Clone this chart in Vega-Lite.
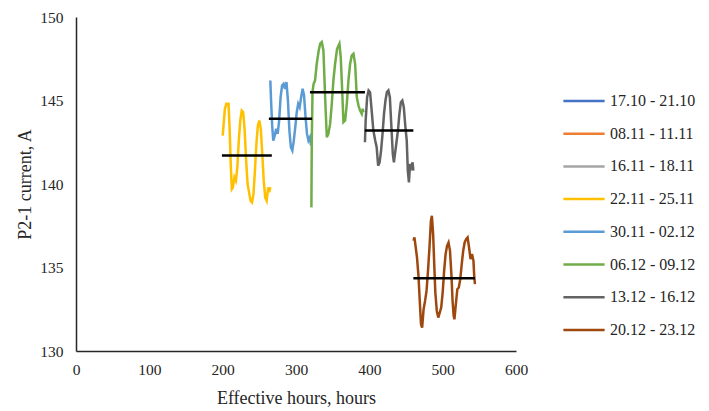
{
  "$schema": "https://vega.github.io/schema/vega-lite/v6.json",
  "width": 440,
  "height": 334,
  "autosize": "none",
  "padding": {"left": 76, "top": 17, "right": 193, "bottom": 60},
  "background": "white",
  "config": {
    "view": {"stroke": null},
    "axis": {
      "grid": false,
      "ticks": false,
      "domainColor": "#262626",
      "domainWidth": 1.5,
      "labelFont": "Liberation Serif",
      "labelFontSize": 15.5,
      "labelColor": "#262626",
      "labelFlush": false,
      "titleFont": "Liberation Serif",
      "titleFontSize": 18,
      "titleFontWeight": "normal",
      "titleColor": "#262626"
    }
  },
  "datasets": {
    "traces": [
      {"s": "22.11 - 25.11", "x": 200, "y": 142.9},
      {"s": "22.11 - 25.11", "x": 201, "y": 143.4},
      {"s": "22.11 - 25.11", "x": 203, "y": 144.5},
      {"s": "22.11 - 25.11", "x": 205, "y": 144.8},
      {"s": "22.11 - 25.11", "x": 208, "y": 144.8},
      {"s": "22.11 - 25.11", "x": 209.5, "y": 143.3},
      {"s": "22.11 - 25.11", "x": 211, "y": 141.2},
      {"s": "22.11 - 25.11", "x": 212.5, "y": 139.7},
      {"s": "22.11 - 25.11", "x": 214, "y": 139.8},
      {"s": "22.11 - 25.11", "x": 216, "y": 140.4},
      {"s": "22.11 - 25.11", "x": 218, "y": 140.2},
      {"s": "22.11 - 25.11", "x": 220, "y": 141.0},
      {"s": "22.11 - 25.11", "x": 222, "y": 142.6},
      {"s": "22.11 - 25.11", "x": 224, "y": 143.8},
      {"s": "22.11 - 25.11", "x": 226, "y": 144.4},
      {"s": "22.11 - 25.11", "x": 228, "y": 144.3},
      {"s": "22.11 - 25.11", "x": 230, "y": 143.2},
      {"s": "22.11 - 25.11", "x": 232, "y": 141.4},
      {"s": "22.11 - 25.11", "x": 234, "y": 140.0},
      {"s": "22.11 - 25.11", "x": 236, "y": 139.5},
      {"s": "22.11 - 25.11", "x": 238, "y": 139.0},
      {"s": "22.11 - 25.11", "x": 240, "y": 138.9},
      {"s": "22.11 - 25.11", "x": 242, "y": 139.4},
      {"s": "22.11 - 25.11", "x": 244, "y": 140.8},
      {"s": "22.11 - 25.11", "x": 246, "y": 142.4},
      {"s": "22.11 - 25.11", "x": 248, "y": 143.5},
      {"s": "22.11 - 25.11", "x": 250, "y": 143.8},
      {"s": "22.11 - 25.11", "x": 252, "y": 143.3},
      {"s": "22.11 - 25.11", "x": 254, "y": 141.8},
      {"s": "22.11 - 25.11", "x": 256, "y": 140.2},
      {"s": "22.11 - 25.11", "x": 258, "y": 139.2},
      {"s": "22.11 - 25.11", "x": 260, "y": 139.0},
      {"s": "22.11 - 25.11", "x": 262, "y": 139.8},
      {"s": "22.11 - 25.11", "x": 263.5, "y": 139.5},
      {"s": "22.11 - 25.11", "x": 265, "y": 139.8},

      {"s": "30.11 - 02.12", "x": 265, "y": 146.2},
      {"s": "30.11 - 02.12", "x": 266, "y": 145.0},
      {"s": "30.11 - 02.12", "x": 267.5, "y": 143.5},
      {"s": "30.11 - 02.12", "x": 269, "y": 142.6},
      {"s": "30.11 - 02.12", "x": 271, "y": 142.9},
      {"s": "30.11 - 02.12", "x": 273, "y": 143.3},
      {"s": "30.11 - 02.12", "x": 275, "y": 143.0},
      {"s": "30.11 - 02.12", "x": 277, "y": 143.8},
      {"s": "30.11 - 02.12", "x": 279, "y": 145.2},
      {"s": "30.11 - 02.12", "x": 281, "y": 145.9},
      {"s": "30.11 - 02.12", "x": 283, "y": 146.0},
      {"s": "30.11 - 02.12", "x": 285, "y": 145.7},
      {"s": "30.11 - 02.12", "x": 287, "y": 146.1},
      {"s": "30.11 - 02.12", "x": 289, "y": 145.0},
      {"s": "30.11 - 02.12", "x": 291, "y": 143.2},
      {"s": "30.11 - 02.12", "x": 293, "y": 142.2},
      {"s": "30.11 - 02.12", "x": 295, "y": 142.0},
      {"s": "30.11 - 02.12", "x": 297, "y": 142.6},
      {"s": "30.11 - 02.12", "x": 299, "y": 143.4},
      {"s": "30.11 - 02.12", "x": 301, "y": 144.3},
      {"s": "30.11 - 02.12", "x": 303, "y": 144.8},
      {"s": "30.11 - 02.12", "x": 305, "y": 144.6},
      {"s": "30.11 - 02.12", "x": 307, "y": 145.2},
      {"s": "30.11 - 02.12", "x": 309, "y": 145.7},
      {"s": "30.11 - 02.12", "x": 311, "y": 145.3},
      {"s": "30.11 - 02.12", "x": 313, "y": 144.0},
      {"s": "30.11 - 02.12", "x": 315, "y": 143.0},
      {"s": "30.11 - 02.12", "x": 317, "y": 142.6},
      {"s": "30.11 - 02.12", "x": 319, "y": 142.8},
      {"s": "30.11 - 02.12", "x": 320.5, "y": 142.3},

      {"s": "06.12 - 09.12", "x": 321, "y": 138.6},
      {"s": "06.12 - 09.12", "x": 321.5, "y": 142.5},
      {"s": "06.12 - 09.12", "x": 322.5, "y": 145.5},
      {"s": "06.12 - 09.12", "x": 324, "y": 146.0},
      {"s": "06.12 - 09.12", "x": 326, "y": 146.2},
      {"s": "06.12 - 09.12", "x": 328.3, "y": 147.2},
      {"s": "06.12 - 09.12", "x": 331, "y": 148.0},
      {"s": "06.12 - 09.12", "x": 333, "y": 148.4},
      {"s": "06.12 - 09.12", "x": 335.2, "y": 148.5},
      {"s": "06.12 - 09.12", "x": 337.4, "y": 148.0},
      {"s": "06.12 - 09.12", "x": 339.7, "y": 145.2},
      {"s": "06.12 - 09.12", "x": 342, "y": 142.8},
      {"s": "06.12 - 09.12", "x": 344.2, "y": 143.0},
      {"s": "06.12 - 09.12", "x": 346.5, "y": 143.6},
      {"s": "06.12 - 09.12", "x": 348.8, "y": 144.8},
      {"s": "06.12 - 09.12", "x": 351, "y": 146.2},
      {"s": "06.12 - 09.12", "x": 353.3, "y": 147.2},
      {"s": "06.12 - 09.12", "x": 356, "y": 148.1},
      {"s": "06.12 - 09.12", "x": 359.2, "y": 148.4},
      {"s": "06.12 - 09.12", "x": 361, "y": 147.6},
      {"s": "06.12 - 09.12", "x": 362.4, "y": 146.2},
      {"s": "06.12 - 09.12", "x": 364.7, "y": 143.7},
      {"s": "06.12 - 09.12", "x": 367, "y": 143.8},
      {"s": "06.12 - 09.12", "x": 369.3, "y": 144.8},
      {"s": "06.12 - 09.12", "x": 371.5, "y": 146.2},
      {"s": "06.12 - 09.12", "x": 373.8, "y": 147.2},
      {"s": "06.12 - 09.12", "x": 376.1, "y": 147.7},
      {"s": "06.12 - 09.12", "x": 378.4, "y": 147.8},
      {"s": "06.12 - 09.12", "x": 380.6, "y": 147.2},
      {"s": "06.12 - 09.12", "x": 382.9, "y": 145.2},
      {"s": "06.12 - 09.12", "x": 385.2, "y": 144.7},
      {"s": "06.12 - 09.12", "x": 387.4, "y": 144.4},
      {"s": "06.12 - 09.12", "x": 389.7, "y": 144.2},
      {"s": "06.12 - 09.12", "x": 391, "y": 144.5},
      {"s": "06.12 - 09.12", "x": 392, "y": 144.3},

      {"s": "13.12 - 16.12", "x": 394, "y": 142.5},
      {"s": "13.12 - 16.12", "x": 395, "y": 143.8},
      {"s": "13.12 - 16.12", "x": 397, "y": 145.2},
      {"s": "13.12 - 16.12", "x": 399, "y": 145.6},
      {"s": "13.12 - 16.12", "x": 401, "y": 145.5},
      {"s": "13.12 - 16.12", "x": 403, "y": 144.5},
      {"s": "13.12 - 16.12", "x": 405.5, "y": 143.2},
      {"s": "13.12 - 16.12", "x": 408, "y": 142.6},
      {"s": "13.12 - 16.12", "x": 410, "y": 142.2},
      {"s": "13.12 - 16.12", "x": 412, "y": 141.1},
      {"s": "13.12 - 16.12", "x": 414, "y": 141.3},
      {"s": "13.12 - 16.12", "x": 416, "y": 142.0},
      {"s": "13.12 - 16.12", "x": 418, "y": 143.0},
      {"s": "13.12 - 16.12", "x": 420, "y": 144.2},
      {"s": "13.12 - 16.12", "x": 422, "y": 145.0},
      {"s": "13.12 - 16.12", "x": 424, "y": 145.5},
      {"s": "13.12 - 16.12", "x": 426, "y": 145.6},
      {"s": "13.12 - 16.12", "x": 428, "y": 145.2},
      {"s": "13.12 - 16.12", "x": 430, "y": 143.5},
      {"s": "13.12 - 16.12", "x": 432, "y": 141.8},
      {"s": "13.12 - 16.12", "x": 433.5, "y": 141.3},
      {"s": "13.12 - 16.12", "x": 435, "y": 141.8},
      {"s": "13.12 - 16.12", "x": 437, "y": 142.5},
      {"s": "13.12 - 16.12", "x": 439, "y": 143.2},
      {"s": "13.12 - 16.12", "x": 441, "y": 144.2},
      {"s": "13.12 - 16.12", "x": 443, "y": 144.9},
      {"s": "13.12 - 16.12", "x": 445, "y": 145.0},
      {"s": "13.12 - 16.12", "x": 447, "y": 144.6},
      {"s": "13.12 - 16.12", "x": 449, "y": 143.5},
      {"s": "13.12 - 16.12", "x": 451, "y": 142.6},
      {"s": "13.12 - 16.12", "x": 452.5, "y": 140.8},
      {"s": "13.12 - 16.12", "x": 454, "y": 140.1},
      {"s": "13.12 - 16.12", "x": 455.5, "y": 141.2},
      {"s": "13.12 - 16.12", "x": 457, "y": 141.0},
      {"s": "13.12 - 16.12", "x": 459, "y": 141.3},
      {"s": "13.12 - 16.12", "x": 460, "y": 140.8},

      {"s": "20.12 - 23.12", "x": 460.2, "y": 136.6},
      {"s": "20.12 - 23.12", "x": 461.5, "y": 136.8},
      {"s": "20.12 - 23.12", "x": 463, "y": 136.3},
      {"s": "20.12 - 23.12", "x": 465, "y": 135.6},
      {"s": "20.12 - 23.12", "x": 467, "y": 134.5},
      {"s": "20.12 - 23.12", "x": 469, "y": 132.8},
      {"s": "20.12 - 23.12", "x": 470.5, "y": 131.6},
      {"s": "20.12 - 23.12", "x": 472, "y": 131.4},
      {"s": "20.12 - 23.12", "x": 474, "y": 132.5},
      {"s": "20.12 - 23.12", "x": 476, "y": 133.0},
      {"s": "20.12 - 23.12", "x": 478, "y": 133.6},
      {"s": "20.12 - 23.12", "x": 480, "y": 134.8},
      {"s": "20.12 - 23.12", "x": 482, "y": 136.2},
      {"s": "20.12 - 23.12", "x": 484, "y": 137.8},
      {"s": "20.12 - 23.12", "x": 485.3, "y": 138.1},
      {"s": "20.12 - 23.12", "x": 487, "y": 137.0},
      {"s": "20.12 - 23.12", "x": 488.5, "y": 135.2},
      {"s": "20.12 - 23.12", "x": 490, "y": 133.5},
      {"s": "20.12 - 23.12", "x": 492, "y": 132.4},
      {"s": "20.12 - 23.12", "x": 494, "y": 132.0},
      {"s": "20.12 - 23.12", "x": 496, "y": 132.3},
      {"s": "20.12 - 23.12", "x": 498, "y": 132.6},
      {"s": "20.12 - 23.12", "x": 500, "y": 133.5},
      {"s": "20.12 - 23.12", "x": 502, "y": 134.8},
      {"s": "20.12 - 23.12", "x": 504, "y": 135.8},
      {"s": "20.12 - 23.12", "x": 506, "y": 136.3},
      {"s": "20.12 - 23.12", "x": 508, "y": 136.5},
      {"s": "20.12 - 23.12", "x": 510, "y": 136.0},
      {"s": "20.12 - 23.12", "x": 512, "y": 134.5},
      {"s": "20.12 - 23.12", "x": 513.5, "y": 133.0},
      {"s": "20.12 - 23.12", "x": 515, "y": 132.1},
      {"s": "20.12 - 23.12", "x": 516, "y": 131.9},
      {"s": "20.12 - 23.12", "x": 518, "y": 132.8},
      {"s": "20.12 - 23.12", "x": 520, "y": 133.7},
      {"s": "20.12 - 23.12", "x": 522, "y": 133.8},
      {"s": "20.12 - 23.12", "x": 524, "y": 134.3},
      {"s": "20.12 - 23.12", "x": 526, "y": 135.2},
      {"s": "20.12 - 23.12", "x": 528, "y": 136.0},
      {"s": "20.12 - 23.12", "x": 530, "y": 136.5},
      {"s": "20.12 - 23.12", "x": 532, "y": 136.7},
      {"s": "20.12 - 23.12", "x": 534, "y": 136.8},
      {"s": "20.12 - 23.12", "x": 536, "y": 136.2},
      {"s": "20.12 - 23.12", "x": 538, "y": 135.5},
      {"s": "20.12 - 23.12", "x": 540, "y": 135.8},
      {"s": "20.12 - 23.12", "x": 542, "y": 135.4},
      {"s": "20.12 - 23.12", "x": 543, "y": 134.5},
      {"s": "20.12 - 23.12", "x": 544, "y": 134.0}
    ],
    "means": [
      {"seg": "a", "x": 199, "y": 141.7},
      {"seg": "a", "x": 267, "y": 141.7},
      {"seg": "b", "x": 263, "y": 143.9},
      {"seg": "b", "x": 322, "y": 143.9},
      {"seg": "c", "x": 319, "y": 145.5},
      {"seg": "c", "x": 394, "y": 145.5},
      {"seg": "d", "x": 394, "y": 143.2},
      {"seg": "d", "x": 460, "y": 143.2},
      {"seg": "e", "x": 460, "y": 134.35},
      {"seg": "e", "x": 544, "y": 134.35}
    ]
  },
  "layer": [
    {
      "data": {"name": "traces"},
      "mark": {"type": "line", "strokeWidth": 2.5},
      "encoding": {
        "x": {
          "field": "x", "type": "quantitative",
          "scale": {"domain": [0, 600], "nice": false},
          "axis": {"values": [0, 100, 200, 300, 400, 500, 600], "title": "Effective hours, hours", "labelPadding": 11, "titlePadding": 12}
        },
        "y": {
          "field": "y", "type": "quantitative",
          "scale": {"domain": [130, 150], "nice": false, "zero": false},
          "axis": {"values": [130, 135, 140, 145, 150], "title": "P2-1 current, A", "labelPadding": 13, "titlePadding": 5}
        },
        "color": {
          "field": "s", "type": "nominal",
          "scale": {
            "domain": ["17.10 - 21.10", "08.11 - 11.11", "16.11 - 18.11", "22.11 - 25.11", "30.11 - 02.12", "06.12 - 09.12", "13.12 - 16.12", "20.12 - 23.12"],
            "range": ["#4472C4", "#ED7D31", "#A5A5A5", "#FFC000", "#5B9BD5", "#70AD47", "#636363", "#9E480E"]
          },
          "legend": {
            "title": null,
            "orient": "none",
            "legendX": 486,
            "legendY": 62,
            "symbolType": "stroke",
            "symbolSize": 1700,
            "symbolStrokeWidth": 2.5,
            "labelFont": "Liberation Serif",
            "labelFontSize": 16,
            "labelColor": "#262626",
            "rowPadding": 2.7,
            "labelOffset": 4,
            "labelLimit": 200
          }
        },
        "detail": {"field": "s"}
      }
    },
    {
      "data": {"name": "means"},
      "mark": {"type": "line", "strokeWidth": 2.5, "color": "black"},
      "encoding": {
        "x": {"field": "x", "type": "quantitative"},
        "y": {"field": "y", "type": "quantitative"},
        "detail": {"field": "seg"}
      }
    }
  ]
}
